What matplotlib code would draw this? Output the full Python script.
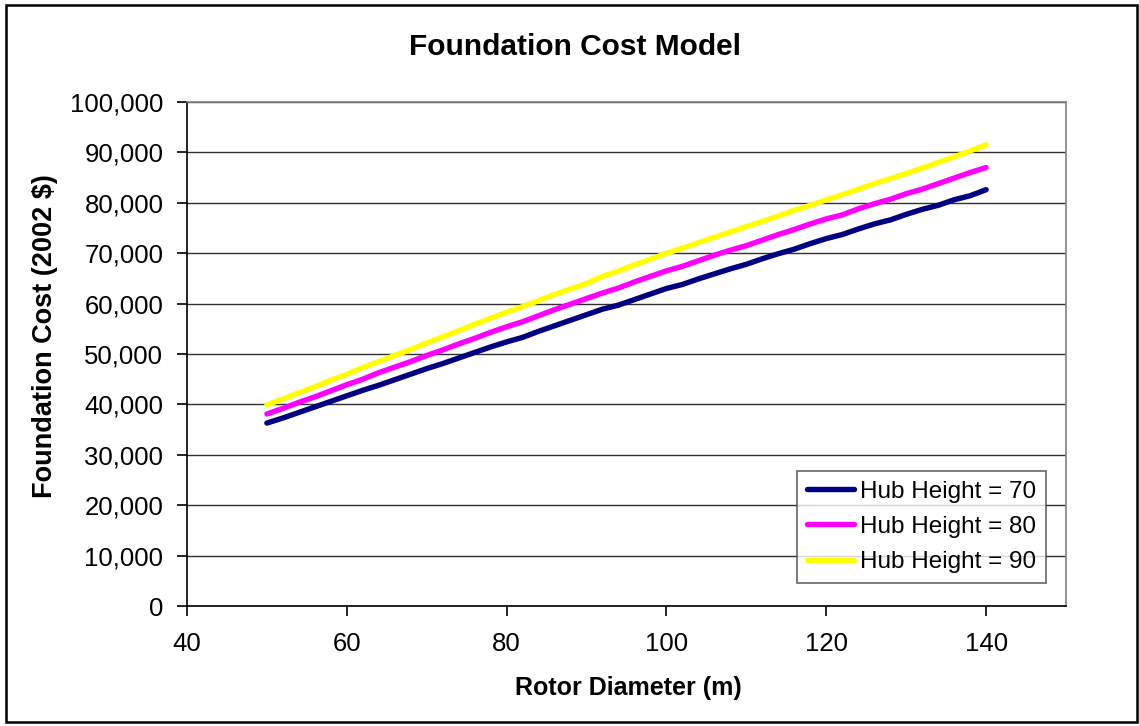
import matplotlib
matplotlib.use("Agg")
import matplotlib.pyplot as plt
from matplotlib.ticker import FuncFormatter, MultipleLocator
from matplotlib.patches import Rectangle

rotor_diameter = list(range(50, 141, 2))

hub70 = [36300, 37300, 38400, 39500, 40600, 41700, 42800, 43800, 44900, 46000,
         47100, 48100, 49200, 50300, 51400, 52400, 53300, 54500, 55600, 56700,
         57800, 58900, 59700, 60800, 61900, 63000, 63800, 64900, 65900, 66900,
         67800, 68900, 69900, 70800, 71900, 72900, 73700, 74800, 75800, 76600,
         77700, 78700, 79500, 80600, 81400, 82600]
hub80 = [38100, 39200, 40400, 41500, 42700, 43900, 45000, 46300, 47400, 48500,
         49700, 50800, 52000, 53100, 54300, 55400, 56400, 57600, 58800, 59900,
         61000, 62100, 63100, 64300, 65400, 66500, 67400, 68500, 69600, 70600,
         71500, 72600, 73700, 74700, 75800, 76800, 77600, 78800, 79800, 80700,
         81800, 82700, 83800, 84900, 86000, 87000]
hub90 = [39900, 41100, 42300, 43500, 44800, 46000, 47300, 48500, 49700, 50900,
         52200, 53400, 54600, 55900, 57100, 58300, 59400, 60600, 61800, 62900,
         64000, 65400, 66500, 67700, 68800, 70000, 71000, 72100, 73200, 74200,
         75300, 76300, 77400, 78500, 79500, 80600, 81600, 82700, 83800, 84800,
         85800, 86900, 88000, 89100, 90300, 91500]

series_labels = ["Hub Height = 70", "Hub Height = 80", "Hub Height = 90"]
series_colors = ["#000080", "#FF00FF", "#FFFF00"]

plt.rcParams['font.family'] = ['Liberation Sans', 'DejaVu Sans']

W, H = 1139, 726
fig = plt.figure(figsize=(W / 100, H / 100), dpi=100)
ax = fig.add_axes([187 / W, 1 - 606 / H, (1066 - 187) / W, (606 - 102) / H])

for ys, lab, col in zip([hub70, hub80, hub90], series_labels, series_colors):
    ax.plot(rotor_diameter, ys, color=col, lw=3.9, label=lab,
            solid_capstyle='round', solid_joinstyle='round')

ax.set_xlim(40, 150)
ax.set_ylim(0, 100000)
ax.xaxis.set_major_locator(MultipleLocator(20))
ax.yaxis.set_major_locator(MultipleLocator(10000))
ax.set_xticks([40, 60, 80, 100, 120, 140])
ax.yaxis.set_major_formatter(FuncFormatter(lambda v, p: f"{int(v):,}"))
ax.grid(axis='y', color='#303030', lw=1.0)
ax.set_axisbelow(True)

ax.tick_params(axis='both', labelsize=18.5, length=7, width=1.2, direction='out')
ax.tick_params(axis='y', pad=10)
ax.tick_params(axis='x', pad=12)
for s in ['top', 'right']:
    ax.spines[s].set_color('#808080')
    ax.spines[s].set_linewidth(1.2)
for s in ['left', 'bottom']:
    ax.spines[s].set_color('black')
    ax.spines[s].set_linewidth(1.2)

fig.text(575 / W, 1 - 47 / H, "Foundation Cost Model", fontsize=21.5,
         fontweight='bold', ha='center', va='center')
fig.text(628 / W, 1 - 688 / H, "Rotor Diameter (m)", fontsize=18,
         fontweight='bold', ha='center', va='center')
fig.text(45 / W, 1 - 336 / H, "Foundation Cost (2002 $)", fontsize=19.5,
         fontweight='bold', ha='center', va='center', rotation=90)

leg = ax.legend(loc='lower right', bbox_to_anchor=(1046 / W, 1 - 583 / H),
                bbox_transform=fig.transFigure, fontsize=17.5, frameon=True,
                fancybox=False, edgecolor='#404040', borderpad=0.4,
                labelspacing=0.55, handlelength=1.95, handletextpad=0.25,
                borderaxespad=0)
leg.get_frame().set_linewidth(1.2)

fig.patches.append(Rectangle((6 / W, 1 - 722 / H), (1137 - 6) / W, (722 - 5) / H,
                             transform=fig.transFigure, fill=False,
                             edgecolor='black', lw=1.8))

fig.savefig("out.png", dpi=100)
